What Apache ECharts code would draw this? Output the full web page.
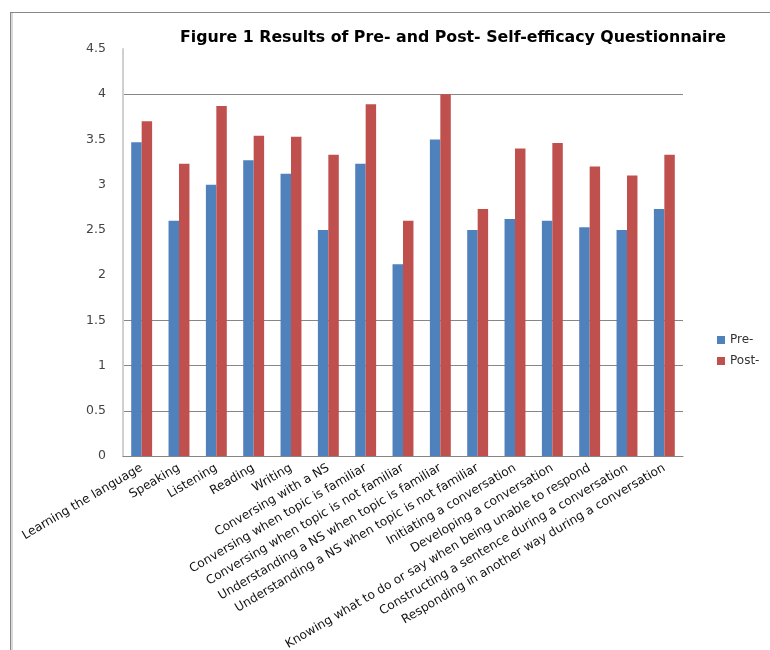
<!DOCTYPE html>
<html>
<head>
<meta charset="utf-8">
<script src="https://cdn.jsdelivr.net/npm/echarts@6/dist/echarts.min.js"></script>
<style>html,body{margin:0;padding:0;background:#fff}#c{width:770px;height:650px}</style>
</head>
<body>
<div id="c"></div>
<script>
const categories = [
  "Learning the language", "Speaking", "Listening", "Reading", "Writing",
  "Conversing with a NS", "Conversing when topic is familiar",
  "Conversing when topic is not familiar", "Understanding a NS when topic is familiar",
  "Understanding a NS when topic is not familiar", "Initiating a conversation",
  "Developing a conversation", "Knowing what to do or say when being unable to respond",
  "Constructing a sentence during a conversation", "Responding in another way during a conversation"
];
const preValues  = [3.47, 2.60, 3.00, 3.27, 3.12, 2.50, 3.23, 2.12, 3.50, 2.50, 2.62, 2.60, 2.53, 2.50, 2.73];
const postValues = [3.70, 3.23, 3.87, 3.54, 3.53, 3.33, 3.89, 2.60, 4.00, 2.73, 3.40, 3.46, 3.20, 3.10, 3.33];
const seriesNames = ["Pre-", "Post-"];
const titleText = "Figure 1 Results of Pre- and Post- Self-efficacy Questionnaire";

const chart = echarts.init(document.getElementById('c'), null, {renderer: 'canvas'});
const gridColors = ['#868686','#868686','#868686','#868686','rgba(0,0,0,0)','rgba(0,0,0,0)','rgba(0,0,0,0)','rgba(0,0,0,0)','#868686','rgba(0,0,0,0)'];
chart.setOption({
  animation: false,
  backgroundColor: '#fff',
  title: {
    text: titleText, left: 448, top: 25, textAlign: 'center',
    textStyle: {fontFamily: 'DejaVu Sans', fontWeight: 'bold', fontSize: 15.8, color: '#000'}
  },
  legend: {
    orient: 'vertical', left: 712, top: 329, itemWidth: 8, itemHeight: 8, itemGap: 9,
    icon: 'rect',
    textStyle: {fontFamily: 'DejaVu Sans', fontSize: 12, color: '#333'},
    data: seriesNames
  },
  grid: {left: 123, right: 87, top: 49, bottom: 194, containLabel: false, outerBoundsMode: 'none'},
  xAxis: {
    type: 'category', data: categories,
    axisLine: {lineStyle: {color: '#868686', width: 1}},
    axisTick: {show: false},
    axisLabel: {rotate: 30.5, interval: 0, margin: 11, fontFamily: 'DejaVu Sans', fontSize: 12.2, color: '#111'}
  },
  yAxis: {
    type: 'value', min: 0, max: 4.5, interval: 0.5,
    axisLine: {show: true, lineStyle: {color: '#d0d0d0', width: 2}},
    axisTick: {show: false},
    axisLabel: {margin: 17, fontFamily: 'DejaVu Sans', fontSize: 12.5, color: '#444',
      formatter: v => String(Math.round(v*10)/10)},
    splitLine: {show: true, lineStyle: {color: gridColors, width: 1}}
  },
  series: [
    {name: seriesNames[0], type: 'bar', data: preValues, barGap: '0%', barCategoryGap: '44%',
     itemStyle: {color: '#4F81BD'}},
    {name: seriesNames[1], type: 'bar', data: postValues,
     itemStyle: {color: '#C0504D'}}
  ],
  graphic: [
    {type: 'line', shape: {x1: 10, y1: 12.5, x2: 770, y2: 12.5}, style: {stroke: '#888', lineWidth: 1}},
    {type: 'line', shape: {x1: 10.5, y1: 12, x2: 10.5, y2: 650}, style: {stroke: '#888', lineWidth: 1}},
    {type: 'line', shape: {x1: 12, y1: 13, x2: 12, y2: 650}, style: {stroke: '#d8d8d8', lineWidth: 2}}
  ]
});
</script>
</body>
</html>
